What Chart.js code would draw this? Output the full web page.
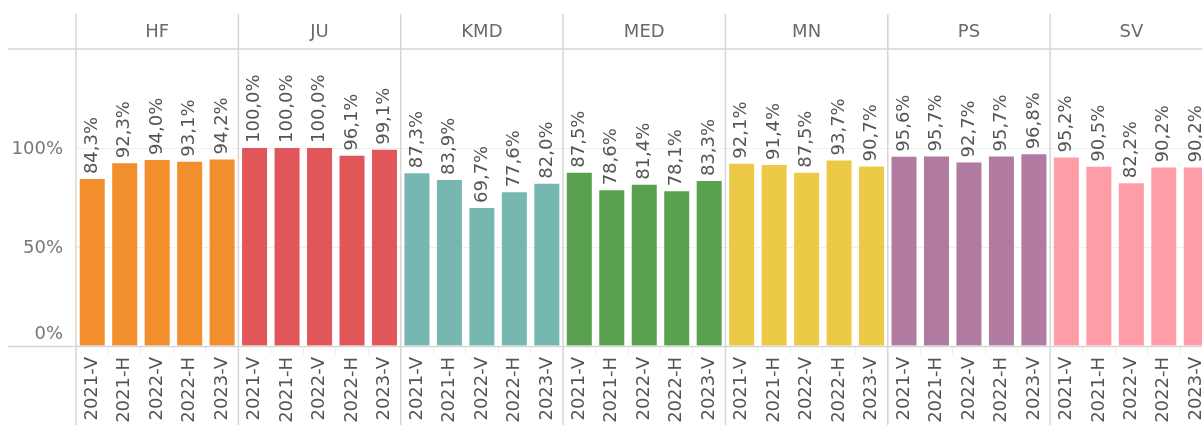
<!DOCTYPE html>
<html>
<head>
<meta charset="utf-8">
<script src="https://cdn.jsdelivr.net/npm/chart.js@4/dist/chart.umd.min.js"></script>
<style>
  html, body { margin: 0; padding: 0; background: #fff; overflow: hidden; }
  #wrap { width: 1222px; height: 425px; }
</style>
</head>
<body>
<div id="wrap"><canvas id="chart" width="1222" height="425"></canvas></div>
<script>
const groups = ['HF', 'JU', 'KMD', 'MED', 'MN', 'PS', 'SV'];
const periods = ['2021-V', '2021-H', '2022-V', '2022-H', '2023-V'];
const hfValues = [84.3, 92.3, 94.0, 93.1, 94.2];
const juValues = [100.0, 100.0, 100.0, 96.1, 99.1];
const kmdValues = [87.3, 83.9, 69.7, 77.6, 82.0];
const medValues = [87.5, 78.6, 81.4, 78.1, 83.3];
const mnValues = [92.1, 91.4, 87.5, 93.7, 90.7];
const psValues = [95.6, 95.7, 92.7, 95.7, 96.8];
const svValues = [95.2, 90.5, 82.2, 90.2, 90.2];
const groupColors = ['#f28e2b', '#e15759', '#76b7b2', '#59a14f', '#edc948', '#b07aa1', '#ff9da7'];
const yTicks = [0, 50, 100];
const yMax = 150;

const allValues = [hfValues, juValues, kmdValues, medValues, mnValues, psValues, svValues];

// flatten the facets into one long category axis
let labels = [];
let values = [];
let colors = [];
allValues.forEach((vals, g) => {
    vals.forEach((v, i) => {
        labels.push(periods[i]);
        values.push(v);
        colors.push(groupColors[g]);
    });
});

function pct(v) {
    return v.toFixed(1).replace('.', ',') + '%';
}

const FONT = 'DejaVu Sans';
const FONT_SIZE = 18;
const lineColor = '#d6d6d6';

const facetPlugin = {
    id: 'facets',
    afterDatasetsDraw(chart) {
        const ctx = chart.ctx;
        const meta = chart.getDatasetMeta(0);
        ctx.save();
        ctx.font = FONT_SIZE + 'px "' + FONT + '"';
        ctx.fillStyle = '#555';
        ctx.textAlign = 'left';
        ctx.textBaseline = 'middle';
        meta.data.forEach((bar, i) => {
            ctx.save();
            ctx.translate(bar.x, bar.y - 5);
            ctx.rotate(-Math.PI / 2);
            ctx.fillText(pct(values[i]), 0, 0);
            ctx.restore();
        });
        ctx.restore();
    },
    afterDraw(chart) {
        const ctx = chart.ctx;
        const area = chart.chartArea;
        const x = chart.scales.x;
        const y = chart.scales.y;
        const n = periods.length;

        ctx.save();
        ctx.strokeStyle = lineColor;
        ctx.lineWidth = 1.5;

        // header and axis lines
        ctx.beginPath();
        ctx.moveTo(8, area.top);
        ctx.lineTo(chart.width, area.top);
        ctx.moveTo(8, area.bottom + 0.5);
        ctx.lineTo(chart.width, area.bottom + 0.5);
        ctx.stroke();

        // panel separators
        ctx.beginPath();
        for (let g = 0; g <= groups.length; g++) {
            let px;
            if (g === 0) px = area.left;
            else if (g === groups.length) px = area.right;
            else px = (x.getPixelForValue(g * n - 1) + x.getPixelForValue(g * n)) / 2;
            ctx.moveTo(px, 14);
            ctx.lineTo(px, chart.height);
        }
        ctx.stroke();

        // panel headers
        ctx.font = FONT_SIZE + 'px "' + FONT + '"';
        ctx.fillStyle = '#6a6a6a';
        ctx.textAlign = 'center';
        ctx.textBaseline = 'middle';
        groups.forEach((name, g) => {
            const cx = (x.getPixelForValue(g * n) + x.getPixelForValue(g * n + n - 1)) / 2;
            ctx.fillText(name, cx, 32);
        });

        // y tick labels
        ctx.fillStyle = '#777';
        ctx.textAlign = 'right';
        yTicks.forEach(v => {
            let py = y.getPixelForValue(v);
            if (v === 0) py -= 13;
            ctx.fillText(v + '%', area.left - 13, py + 1);
        });
        ctx.restore();
    }
};

Chart.defaults.font.family = FONT;
Chart.defaults.font.size = FONT_SIZE;

new Chart(document.getElementById('chart'), {
    type: 'bar',
    data: {
        labels: labels,
        datasets: [{
            data: values,
            backgroundColor: colors,
            borderWidth: 0,
            categoryPercentage: 1,
            barPercentage: 0.77
        }]
    },
    options: {
        responsive: false,
        animation: false,
        devicePixelRatio: 1,
        layout: { padding: { left: 0, top: 49, right: 9.5, bottom: 0 } },
        plugins: {
            legend: { display: false },
            tooltip: { enabled: false }
        },
        scales: {
            x: {
                offset: true,
                grid: {
                    offset: true,
                    drawOnChartArea: false,
                    tickLength: 8,
                    color: '#ececec'
                },
                border: { display: false },
                ticks: {
                    autoSkip: false,
                    minRotation: 90,
                    maxRotation: 90,
                    padding: 3,
                    color: '#555',
                    font: { size: FONT_SIZE }
                },
                afterFit(scale) { scale.height = 79; }
            },
            y: {
                min: 0,
                max: yMax,
                afterBuildTicks(scale) {
                    scale.ticks = yTicks.map(v => ({ value: v }));
                },
                grid: { color: '#efefef', drawTicks: false },
                border: { display: false },
                ticks: { display: false },
                afterFit(scale) { scale.width = 76; }
            }
        }
    },
    plugins: [facetPlugin]
});
</script>
</body>
</html>
